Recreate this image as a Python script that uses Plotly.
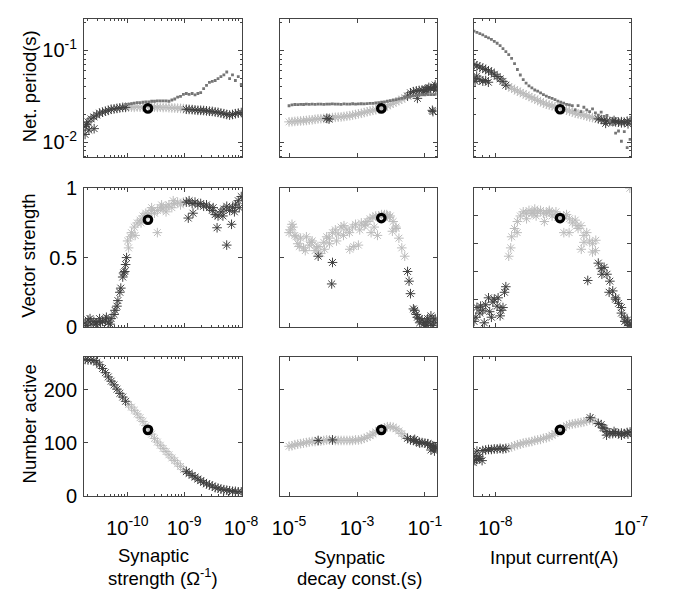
import plotly.graph_objects as go

FONT = "Liberation Sans, Arial, Helvetica, sans-serif"
DARK = "#404040"
LIGHT = "#bcbcbc"
DOTC = "#767676"
AXC = "#444444"

# ---------------- Column 1: synaptic strength (1/Ohm) ----------------
syn_strength = [1.81e-11, 2.03e-11, 2.29e-11, 2.57e-11, 2.88e-11, 3.24e-11, 3.65e-11, 4.10e-11, 4.61e-11, 5.18e-11,
                5.83e-11, 6.55e-11, 7.36e-11, 8.28e-11, 9.31e-11, 1.05e-10, 1.18e-10, 1.32e-10, 1.49e-10, 1.67e-10,
                1.88e-10, 2.11e-10, 2.38e-10, 2.67e-10, 3.00e-10, 3.37e-10, 3.79e-10, 4.26e-10, 4.79e-10, 5.39e-10,
                6.06e-10, 6.81e-10, 7.66e-10, 8.61e-10, 9.68e-10, 1.09e-9, 1.22e-9, 1.38e-9, 1.55e-9, 1.74e-9,
                1.95e-9, 2.20e-9, 2.47e-9, 2.78e-9, 3.12e-9, 3.51e-9, 3.94e-9, 4.43e-9, 4.99e-9, 5.61e-9,
                6.30e-9, 7.08e-9, 7.96e-9, 8.95e-9, 1.01e-8]
syn_strength_range = (1.0e-10, 1.0e-9)
period_strength = [0.0147, 0.0166, 0.0179, 0.0188, 0.0197, 0.0207, 0.0212, 0.0217, 0.0222, 0.0228,
                   0.0230, 0.0233, 0.0236, 0.0239, 0.0239,
                   0.0240, 0.0241, 0.0239, 0.0242, 0.0240, 0.0241, 0.0243, 0.0240, 0.0242, 0.0241,
                   0.0239, 0.0240, 0.0238, 0.0239, 0.0237, 0.0236, 0.0235, 0.0234, 0.0233, 0.0232,
                   0.0228, 0.0227, 0.0226, 0.0224, 0.0222, 0.0222, 0.0221, 0.0219, 0.0217, 0.0216,
                   0.0213, 0.0211, 0.0207, 0.0204, 0.0200, 0.0197, 0.0200, 0.0204, 0.0207, 0.0210]
period2_strength = [None] * 14 + [
                    0.0257, 0.0260, 0.0263, 0.0266, 0.0269, 0.0269, 0.0272, 0.0275, 0.0275, 0.0279,
                    0.0279, 0.0282, 0.0282, 0.0282, 0.0282, 0.0279, 0.0288, 0.0295, 0.0309, 0.0316,
                    0.0332, 0.0339, 0.0332, 0.0339, 0.0328, 0.0339, 0.0347, 0.0383, 0.0415, 0.0448,
                    0.0459, 0.0470, 0.0493, 0.0517, 0.0542, 0.0582, 0.0493, 0.0542, 0.0470, 0.0517, 0.0425]
vs_strength = [0.03, 0.05, 0.02, 0.04, 0.03, 0.06, 0.04, 0.05, 0.03, 0.06, 0.09, 0.15, 0.25, 0.36, 0.45,
               0.57, 0.68, 0.72, 0.75, 0.77, 0.80, 0.82, 0.82, 0.84, 0.82, 0.84, 0.86, 0.85, 0.87, 0.88,
               0.86, 0.89, 0.90, 0.88, 0.90,
               0.90, 0.91, 0.89, 0.90, 0.88, 0.89, 0.87, 0.88, 0.86, 0.84, 0.81, 0.80, 0.83, 0.85, 0.87,
               0.84, 0.86, 0.88, 0.91, 0.94]
nact_strength = [257, 256, 256, 255, 252, 247, 240, 232, 224, 216, 209, 201, 193, 186, 178, 172, 167, 161, 154, 147,
                 140, 132, 124, 116, 108, 101, 95, 89, 83, 77, 71, 66, 60, 55, 49, 45, 42, 38, 35, 31,
                 28, 25, 22, 20, 18, 15, 14, 12, 11, 10, 9, 8, 8, 7, 7]
# scattered extra samples
period_strength_dark_x = [1.8e-11, 2.1e-11, 2.6e-11, 1.9e-11]
period_strength_dark_y = [0.0121, 0.0135, 0.0140, 0.0155]
vs_strength_dark_x = [1.88e-11, 2.20e-11, 2.77e-11, 3.37e-11, 4.27e-11, 4.99e-11, 6.06e-11, 6.81e-11, 7.66e-11,
                      8.61e-11, 8.98e-11, 9.68e-11, 1.18e-9, 1.43e-9, 3.24e-9, 3.79e-9, 4.80e-9, 5.60e-9, 6.81e-9,
                      7.66e-9, 9.31e-9]
vs_strength_dark_y = [0.01, 0.06, 0.02, 0.03, 0.07, 0.02, 0.12, 0.19, 0.28, 0.39, 0.40, 0.50, 0.785, 0.82, 0.86,
                      0.715, 0.80, 0.59, 0.74, 0.83, 0.86]
vs_strength_light_x = [1.01e-10, 1.13e-10, 1.37e-10, 1.74e-10, 2.20e-10, 2.67e-10, 3.37e-10, 4.0e-10, 4.79e-10, 6.4e-10]
vs_strength_light_y = [0.62, 0.65, 0.66, 0.75, 0.79, 0.86, 0.68, 0.88, 0.83, 0.91]

# ---------------- Column 2: synaptic decay constant (s) ----------------
syn_decay = [1.00e-5, 1.22e-5, 1.48e-5, 1.80e-5, 2.19e-5, 2.67e-5, 3.24e-5, 3.94e-5, 4.80e-5, 5.83e-5,
             7.10e-5, 8.63e-5, 1.05e-4, 1.28e-4, 1.55e-4, 1.89e-4, 2.30e-4, 2.80e-4, 3.40e-4, 4.14e-4,
             5.04e-4, 6.13e-4, 7.45e-4, 9.06e-4, 1.10e-3, 1.34e-3, 1.63e-3, 1.99e-3, 2.42e-3, 2.94e-3,
             3.57e-3, 4.35e-3, 5.29e-3, 6.44e-3, 7.83e-3, 9.53e-3, 1.16e-2, 1.41e-2, 1.71e-2, 2.08e-2,
             2.54e-2, 3.08e-2, 3.75e-2, 4.57e-2, 5.56e-2, 6.76e-2, 8.22e-2, 1.00e-1, 1.22e-1, 1.48e-1,
             1.80e-1, 2.19e-1]
syn_decay_range = (1.0e-5, 3.0e-2)
period_decay = [0.0166, 0.0167, 0.0168, 0.0169, 0.0170, 0.0171, 0.0172, 0.0174, 0.0175, 0.0177,
                0.0179, 0.0180, 0.0181, 0.0182, 0.0183, 0.0185, 0.0186, 0.0187, 0.0188, 0.0190,
                0.0192, 0.0194, 0.0197, 0.0200, 0.0203, 0.0206, 0.0210, 0.0214, 0.0218, 0.0222,
                0.0226, 0.0230, 0.0234, 0.0241, 0.0249, 0.0257, 0.0266, 0.0275, 0.0284, 0.0294,
                0.0305, 0.0318, 0.0345, 0.0355, 0.0362, 0.0366, 0.0370, 0.0374, 0.0378, 0.0384,
                0.0388, 0.0394]
period2_decay = [0.0249, 0.0255, 0.0257, 0.0256, 0.0258, 0.0257, 0.0259, 0.0258, 0.0260, 0.0258,
                 0.0259, 0.0260, 0.0258, 0.0260, 0.0259, 0.0261, 0.0259, 0.0260, 0.0258, 0.0261,
                 0.0259, 0.0260, 0.0262, 0.0260, 0.0261, 0.0262, 0.0261, 0.0263, 0.0264, 0.0265,
                 0.0267, 0.0269, 0.0272, 0.0275, 0.0279, 0.0283, 0.0287, 0.0291, 0.0296, 0.0300,
                 0.0305, 0.0310, 0.0316, 0.0320, 0.0323, 0.0325, 0.0327, 0.0328, 0.0329, 0.0330,
                 0.0330, 0.0331]
vs_decay = [0.68, 0.74, 0.66, 0.60, 0.64, 0.57, 0.65, 0.59, 0.62, 0.55, 0.58, 0.53, 0.61, 0.65, 0.60,
            0.68, 0.70, 0.67, 0.72, 0.73, 0.70, 0.56, 0.72, 0.74, 0.59, 0.75, 0.73, 0.76, 0.78, 0.79,
            0.80, 0.80, 0.81, 0.81, 0.80, 0.80, 0.76, 0.71, 0.64, 0.57, 0.51, 0.40, 0.24, 0.13, 0.09,
            0.06, 0.05, 0.03, 0.04, 0.02, 0.05, 0.03]
nact_decay = [93, 94, 96, 97, 98, 99, 100, 101, 102, 102, 103, 103, 104, 105, 105, 105, 104, 104, 104, 104,
              104, 104, 104, 105, 105, 106, 108, 110, 113, 116, 120, 123, 126, 128, 130, 130, 129, 126, 122, 117,
              112, 108, 105, 104, 102, 101, 100, 99, 98, 95, 91, 89]
period_decay_dark_x = [1.3e-4, 1.5e-4, 0.06, 0.09, 0.11, 0.13, 0.165, 0.172, 0.19, 0.20, 0.21]
period_decay_dark_y = [0.0181, 0.0178, 0.0300, 0.0360, 0.0372, 0.0395, 0.0222, 0.0215, 0.0400, 0.0420, 0.0370]
vs_decay_light_x = [1.1e-5, 1.3e-5, 1.6e-5, 2.0e-5, 3.0e-5, 4.5e-5, 6.5e-5, 1.1e-4, 1.5e-4, 2.5e-4, 4.0e-4, 6.0e-4,
                    8.0e-4, 1.2e-3, 1.8e-3, 2.6e-3, 3.2e-3, 4.0e-3, 6.5e-3, 7.5e-3, 9.0e-3, 1.1e-2, 1.4e-2]
vs_decay_light_y = [0.70, 0.72, 0.65, 0.58, 0.55, 0.61, 0.57, 0.56, 0.64, 0.62, 0.66, 0.68,
                    0.58, 0.70, 0.74, 0.68, 0.72, 0.66, 0.79, 0.81, 0.79, 0.69, 0.72]
vs_decay_dark_x = [7.2e-5, 1.9e-4, 1.8e-4, 3.4e-2, 5.0e-2, 6.0e-2, 7.0e-2, 9.0e-2, 1.1e-1, 1.2e-1, 1.5e-1, 1.7e-1, 2.0e-1]
vs_decay_dark_y = [0.51, 0.465, 0.31, 0.33, 0.12, 0.07, 0.03, 0.02, 0.01, 0.06, 0.08, 0.01, 0.06]
nact_decay_dark_x = [7.2e-5, 1.9e-4, 0.05, 0.07, 0.12, 0.15, 0.17, 0.19, 0.20, 0.21]
nact_decay_dark_y = [104, 105, 106, 99, 97, 86, 94, 84, 90, 92]

# ---------------- Column 3: input current (A) ----------------
input_current = [6.98e-9, 7.33e-9, 7.70e-9, 8.09e-9, 8.50e-9, 8.92e-9, 9.37e-9, 9.84e-9, 1.033e-8, 1.086e-8,
                 1.140e-8, 1.197e-8, 1.257e-8, 1.320e-8, 1.387e-8, 1.456e-8, 1.530e-8, 1.607e-8, 1.687e-8, 1.772e-8,
                 1.861e-8, 1.954e-8, 2.053e-8, 2.156e-8, 2.264e-8, 2.378e-8, 2.497e-8, 2.622e-8, 2.754e-8, 2.892e-8,
                 3.037e-8, 3.190e-8, 3.350e-8, 3.518e-8, 3.694e-8, 3.880e-8, 4.074e-8, 4.279e-8, 4.494e-8, 4.719e-8,
                 4.956e-8, 5.205e-8, 5.466e-8, 5.740e-8, 6.028e-8, 6.331e-8, 6.648e-8, 6.982e-8, 7.332e-8, 7.700e-8,
                 8.087e-8, 8.492e-8, 8.918e-8, 9.366e-8, 9.836e-8]
input_current_range = (1.2e-8, 5.6e-8)
period_current = [0.070, 0.068, 0.066, 0.064, 0.062, 0.060, 0.058, 0.055, 0.052, 0.049,
                  0.046, 0.0418, 0.0403, 0.0388, 0.0374, 0.0361, 0.0349, 0.0337, 0.0326, 0.0315,
                  0.0305, 0.0295, 0.0285, 0.0276, 0.0267, 0.0259, 0.0254, 0.0249, 0.0243, 0.0238,
                  0.0233, 0.0228, 0.0223, 0.0218, 0.0213, 0.0207, 0.0203, 0.0200, 0.0196, 0.0192,
                  0.0188, 0.0185, 0.0182, 0.0179, 0.0176, 0.0173, 0.0170, 0.0168, 0.0167, 0.0166,
                  0.0165, 0.0167, 0.0164, 0.0169, 0.0171]
period2_current = [0.163, 0.158, 0.153, 0.148, 0.142, 0.137, 0.132, 0.126, 0.120, 0.113,
                   0.105, 0.097, 0.090, 0.082, 0.072, 0.062, 0.054, 0.048, 0.044, 0.041,
                   0.039, 0.037, 0.036, 0.0345, 0.033, 0.0318, 0.0308, 0.030, 0.029, 0.028,
                   0.0272, 0.0266, 0.0258, 0.0255, 0.0250, 0.0225, 0.0250, 0.0215, 0.0240, 0.0225,
                   0.0215, 0.0230, 0.0208, 0.0197, 0.0212, 0.0190, 0.0195, 0.0170, 0.0155, 0.0125,
                   0.0132, 0.0102, 0.0130, 0.0087, 0.0107]
vs_current = [0.04, 0.14, 0.10, 0.12, 0.16, 0.21, 0.07, 0.20, 0.15, 0.08,
              0.14, 0.29, 0.51, 0.65, 0.71, 0.76, 0.80, 0.83, 0.82, 0.84,
              0.82, 0.85, 0.83, 0.84, 0.82, 0.82, 0.83, 0.80, 0.81, 0.79,
              0.78, 0.80, 0.81, 0.78, 0.75, 0.77, 0.71, 0.73, 0.66, 0.68,
              0.62, 0.60, 0.55, 0.46, 0.42, 0.43, 0.38, 0.33, 0.26, 0.20,
              0.17, 0.14, 0.07, 0.03, 0.02]
nact_current = [66, 84, 70, 85, 86, 87, 87, 88, 88, 89, 88, 89, 90, 92, 94, 96, 97, 99, 100, 101,
                102, 104, 105, 106, 108, 109, 111, 114, 117, 120, 123, 128, 132, 134, 135, 136, 137, 138, 139, 141,
                143, 145, 139, 136, 134, 127, 121, 118, 117, 118, 117, 118, 117, 119, 120]
period_current_dark_x = [6.98e-9, 7.1e-9, 7.3e-9, 7.7e-9, 8.1e-9, 8.5e-9, 8.9e-9, 6.5e-8, 7.5e-8, 8.5e-8, 9.5e-8]
period_current_dark_y = [0.0494, 0.0460, 0.0525, 0.0480, 0.0462, 0.0470, 0.0450, 0.0160, 0.0172, 0.0162, 0.0158]
vs_current_light_x = [1.3e-8, 1.45e-8, 1.7e-8, 1.9e-8, 2.0e-8, 2.3e-8, 2.5e-8, 2.8e-8, 3.2e-8, 3.5e-8,
                      4.0e-8, 4.3e-8, 4.5e-8, 5.2e-8, 5.5e-8, 9.8e-8]
vs_current_light_y = [0.57, 0.68, 0.78, 0.82, 0.80, 0.76, 0.84, 0.83, 0.68, 0.68,
                      0.73, 0.56, 0.61, 0.54, 0.625, 1.0]
vs_current_dark_x = [7.2e-9, 7.8e-9, 8.3e-9, 9.1e-9, 9.6e-9, 1.05e-8, 1.1e-8, 1.17e-8, 4.8e-8, 6.1e-8,
                     6.9e-8, 7.7e-8, 8.5e-8, 9.0e-8, 9.4e-8, 9.7e-8]
vs_current_dark_y = [0.07, 0.15, 0.03, 0.11, 0.18, 0.21, 0.12, 0.25, 0.335, 0.38,
                     0.25, 0.21, 0.10, 0.04, 0.05, 0.01]
nact_current_dark_x = [6.9e-9, 7.1e-9, 7.3e-9, 7.6e-9, 8.0e-9, 5.0e-8, 6.2e-8, 6.6e-8, 7.5e-8, 8.5e-8, 9.5e-8]
nact_current_dark_y = [62, 75, 68, 73, 66, 147, 128, 114, 121, 114, 116]

# ---------------- Reference (default) operating point ----------------
ref_x = [2.3e-10, 5.2e-3, 3.0e-8]
ref_period = [0.0233, 0.0233, 0.0228]
ref_vs = [0.773, 0.785, 0.785]
ref_nact = [124, 124, 124]

row_labels = ["Net. period(s)", "Vector strength", "Number active"]

# ---------------- Figure ----------------
W, H = 676, 599
col_px = [(80, 244), (283, 446), (485, 648)]
row_px = [(8, 152), (184, 328), (359, 503)]

fig = go.Figure()


def ids(r, c):
    i = r * 3 + c + 1
    return ("x" if i == 1 else f"x{i}"), ("y" if i == 1 else f"y{i}"), i


def ast(color):
    return dict(symbol="asterisk-open", size=8, color=color, line=dict(color=color, width=1))


def add_panel(r, c, xs, ys, rng, dots=None, dark_x=(), dark_y=(), light_x=(), light_y=(), rx=None, ry=None):
    xa, ya, _ = ids(r, c)
    lo, hi = rng
    lx, ly, dx, dy = [], [], [], []
    for x, y in zip(xs, ys):
        if lo <= x <= hi:
            lx.append(x); ly.append(y)
        else:
            dx.append(x); dy.append(y)
    lx += list(light_x); ly += list(light_y)
    dx += list(dark_x); dy += list(dark_y)
    fig.add_trace(go.Scatter(x=lx, y=ly, mode="markers", marker=ast(LIGHT), xaxis=xa, yaxis=ya, showlegend=False))
    fig.add_trace(go.Scatter(x=dx, y=dy, mode="markers", marker=ast(DARK), xaxis=xa, yaxis=ya, showlegend=False))
    if dots is not None:
        fig.add_trace(go.Scatter(x=xs, y=dots, mode="markers",
                                 marker=dict(symbol="square", size=2.8, color=DOTC),
                                 xaxis=xa, yaxis=ya, showlegend=False))
    fig.add_trace(go.Scatter(x=[rx], y=[ry], mode="markers",
                             marker=dict(symbol="circle-open", size=7.5, color="black",
                                         line=dict(color="black", width=3.2)),
                             xaxis=xa, yaxis=ya, showlegend=False))


cols = [
    (syn_strength, syn_strength_range, period_strength, period2_strength, vs_strength, nact_strength,
     (period_strength_dark_x, period_strength_dark_y), (vs_strength_dark_x, vs_strength_dark_y),
     (vs_strength_light_x, vs_strength_light_y), ((), ())),
    (syn_decay, syn_decay_range, period_decay, period2_decay, vs_decay, nact_decay,
     (period_decay_dark_x, period_decay_dark_y), (vs_decay_dark_x, vs_decay_dark_y),
     (vs_decay_light_x, vs_decay_light_y), (nact_decay_dark_x, nact_decay_dark_y)),
    (input_current, input_current_range, period_current, period2_current, vs_current, nact_current,
     (period_current_dark_x, period_current_dark_y), (vs_current_dark_x, vs_current_dark_y),
     (vs_current_light_x, vs_current_light_y), (nact_current_dark_x, nact_current_dark_y)),
]

for c, (xs, rng, per, per2, vs, na, pdk, vdk, vlt, ndk) in enumerate(cols):
    add_panel(0, c, xs, per, rng, dots=per2, dark_x=pdk[0], dark_y=pdk[1], rx=ref_x[c], ry=ref_period[c])
    add_panel(1, c, xs, vs, rng, dark_x=vdk[0], dark_y=vdk[1], light_x=vlt[0], light_y=vlt[1],
              rx=ref_x[c], ry=ref_vs[c])
    add_panel(2, c, xs, na, rng, dark_x=ndk[0], dark_y=ndk[1], rx=ref_x[c], ry=ref_nact[c])


def sup(e):
    return f"10<sup>-{e}</sup>"


def decades(a, b):
    return [m * 10.0 ** e for e in range(a, b) for m in range(2, 10)]


x_cfg = [
    dict(type="log", range=[-10.763, -7.983], tickvals=[1e-10, 1e-9, 1e-8], ticktext=[sup(10), sup(9), sup(8)],
         minor=dict(ticks="inside", ticklen=2, tickcolor=AXC, tickvals=decades(-11, -8))),
    dict(type="log", range=[-5.28, -0.66], tickvals=[1e-5, 1e-3, 1e-1], ticktext=[sup(5), sup(3), sup(1)]),
    dict(type="log", range=[-8.156, -7.0], tickvals=[1e-8, 1e-7], ticktext=[sup(8), sup(7)],
         minor=dict(ticks="inside", ticklen=2, tickcolor=AXC, tickvals=[8e-9, 9e-9])),
]
y_cfg = [
    [dict(type="log", range=[-2.168, -0.653], tickvals=[0.01, 0.1], ticktext=[sup(2), sup(1)],
          minor=dict(ticks="inside", ticklen=2, tickcolor=AXC,
                     tickvals=[0.007, 0.008, 0.009] + decades(-2, -1) + [0.2]))] * 3,
    [dict(range=[0, 1], tickvals=[0, 0.5, 1], ticktext=["0", "0.5", "1"]),
     dict(range=[0, 1], tickvals=[0, 0.5, 1]),
     dict(range=[0, 1], tickvals=[0.2, 0.4, 0.6, 0.8])],
    [dict(range=[0, 262], tickvals=[0, 100, 200], ticktext=["0", "100", "200"]),
     dict(range=[0, 262], tickvals=[100, 200]),
     dict(range=[0, 262], tickvals=[100, 200])],
]

common = dict(showline=True, linecolor=AXC, linewidth=1, mirror="ticks", ticks="inside", ticklen=4,
              tickcolor=AXC, showgrid=False, zeroline=False,
              tickfont=dict(family=FONT, size=20, color="black"))

layout = {}
for r in range(3):
    for c in range(3):
        xa, ya, i = ids(r, c)
        x0, x1 = col_px[c]
        y0, y1 = row_px[r]
        xd = dict(common, domain=[x0 / W, x1 / W], anchor=ya, **x_cfg[c])
        xd["showticklabels"] = (r == 2)
        if r == 2:
            xd["ticklabelstandoff"] = 14
        yd = dict(common, domain=[1 - y1 / H, 1 - y0 / H], anchor=xa, **y_cfg[r][c])
        yd["showticklabels"] = (c == 0)
        yd["ticklabelstandoff"] = 2
        layout["xaxis" if i == 1 else f"xaxis{i}"] = xd
        layout["yaxis" if i == 1 else f"yaxis{i}"] = yd

ann = []
for r, lab in enumerate(row_labels):
    yc = (row_px[r][0] + row_px[r][1]) / 2 - 2
    ann.append(dict(text=lab, x=23 / W, y=1 - yc / H, xref="paper", yref="paper", textangle=-90,
                    showarrow=False, xanchor="center", yanchor="middle",
                    font=dict(family=FONT, size=18.5, color="black")))
xlabels = [("Synaptic", 152, 565), ("strength (Ω<sup>-1</sup>)", 162, 588),
           ("Synpatic", 356, 567), ("decay const.(s)", 366, 589),
           ("Input current(A)", 569, 567)]
for t, xc, yc in xlabels:
    ann.append(dict(text=t, x=xc / W, y=1 - yc / H, xref="paper", yref="paper", showarrow=False,
                    xanchor="center", yanchor="middle", font=dict(family=FONT, size=18.5, color="black")))

fig.update_layout(width=W, height=H, margin=dict(l=0, r=0, t=0, b=0), paper_bgcolor="white",
                  plot_bgcolor="white", annotations=ann, font=dict(family=FONT, color="black"), **layout)

fig.write_html("out.html")
